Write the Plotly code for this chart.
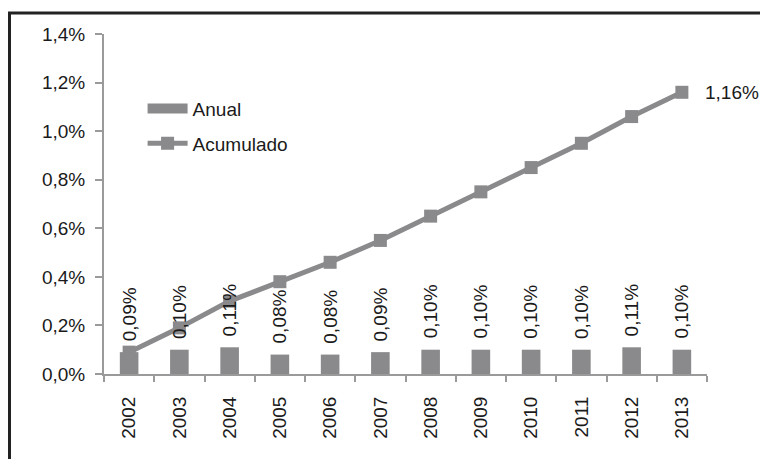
import plotly.graph_objects as go

years = ["2002", "2003", "2004", "2005", "2006", "2007", "2008", "2009", "2010", "2011", "2012", "2013"]
anual = [0.09, 0.10, 0.11, 0.08, 0.08, 0.09, 0.10, 0.10, 0.10, 0.10, 0.11, 0.10]
acumulado = [0.09, 0.19, 0.30, 0.38, 0.46, 0.55, 0.65, 0.75, 0.85, 0.95, 1.06, 1.16]
y_ticks = [0.0, 0.2, 0.4, 0.6, 0.8, 1.0, 1.2, 1.4]
y_tick_labels = ["0,0%", "0,2%", "0,4%", "0,6%", "0,8%", "1,0%", "1,2%", "1,4%"]
anual_labels = ["0,09%", "0,10%", "0,11%", "0,08%", "0,08%", "0,09%", "0,10%", "0,10%", "0,10%", "0,10%", "0,11%", "0,10%"]
acum_last_label = "1,16%"

GRAY = "#8a8a8c"
TXT = "#1a1a1a"
FONT = "Liberation Sans, Arial, sans-serif"
FS = 19

fig = go.Figure()

fig.add_trace(go.Bar(
    x=years, y=anual, marker=dict(color=GRAY, line=dict(width=0)),
    showlegend=False, hoverinfo="skip",
))
# legend-only entry to mimic the wide bar swatch
fig.add_trace(go.Scatter(
    x=[None], y=[None], mode="lines", name="Anual",
    line=dict(color=GRAY, width=10), legendgroup="a",
))
fig.add_trace(go.Scatter(
    x=years, y=acumulado, mode="lines+markers", name="Acumulado",
    line=dict(color=GRAY, width=5),
    marker=dict(symbol="square", size=13, color=GRAY),
    legendgroup="b", cliponaxis=False,
))

# value labels above the bars (x given as category index)
for i, (v, lab) in enumerate(zip(anual, anual_labels)):
    fig.add_annotation(
        x=i, y=v, text=lab, textangle=-90, showarrow=False,
        xanchor="center", yanchor="bottom", yshift=9,
        font=dict(family=FONT, size=FS, color=TXT),
    )

# label of the last cumulative point
fig.add_annotation(
    x=len(years) - 1, y=acumulado[-1], text=acum_last_label, showarrow=False,
    xanchor="left", yanchor="middle", xshift=21,
    font=dict(family=FONT, size=FS, color=TXT),
)

# outer frame
fig.add_shape(type="rect", xref="paper", yref="paper",
              x0=-94.5 / 603, x1=1 + 80 / 603, y0=-120 / 340, y1=1 + 21 / 340,
              line=dict(color="#222222", width=3), layer="below")

fig.update_layout(
    width=760, height=459,
    margin=dict(l=104, r=53, t=34, b=85),
    paper_bgcolor="white", plot_bgcolor="white",
    bargap=0.63,
    hovermode=False,
    font=dict(family=FONT, size=FS, color=TXT),
    legend=dict(
        x=0.064, y=0.836, xanchor="left", yanchor="top",
        bgcolor="rgba(0,0,0,0)", traceorder="grouped", tracegroupgap=7,
        itemwidth=40, font=dict(family=FONT, size=FS, color=TXT),
    ),
    xaxis=dict(
        type="category", range=[-0.5, 11.5], tickangle=-90,
        showline=True, linecolor="#9a9a9a", linewidth=2,
        ticks="outside", tickson="boundaries", ticklen=6, tickcolor="#9a9a9a", tickwidth=2,
        showgrid=False, ticklabelstandoff=13,
    ),
    yaxis=dict(
        range=[0, 1.4], tickvals=y_ticks, ticktext=y_tick_labels,
        showline=True, linecolor="#9a9a9a", linewidth=2,
        ticks="outside", ticklen=7, tickcolor="#9a9a9a", tickwidth=2,
        showgrid=False, zeroline=False, ticklabelstandoff=6,
    ),
)

fig.write_html(
    "out.html",
    config={"displayModeBar": False},
    post_script="document.body.style.margin='0';document.body.style.overflow='hidden';",
)
